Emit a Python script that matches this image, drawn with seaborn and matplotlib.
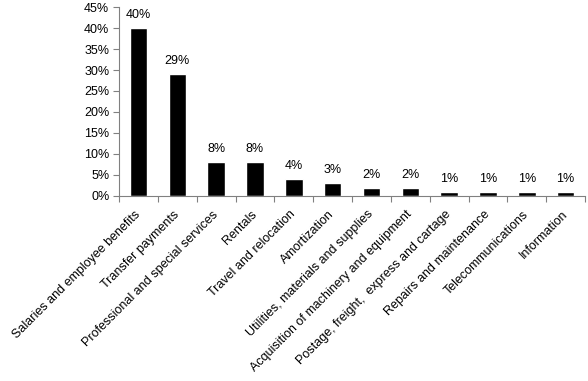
import matplotlib
matplotlib.use('Agg')
import matplotlib.pyplot as plt
import seaborn as sns
import numpy as np

# Data
categories = ['Salaries and employee benefits', 'Transfer payments',
              'Professional and special services', 'Rentals',
              'Travel and relocation', 'Amortization',
              'Utilities, materials and supplies',
              'Acquisition of machinery and equipment',
              'Postage, freight,  express and cartage',
              'Repairs and maintenance', 'Telecommunications', 'Information']
shares = [40, 29, 8, 8, 4, 3, 2, 2, 1, 1, 1, 1]
share_labels = ['40%', '29%', '8%', '8%', '4%', '3%', '2%', '2%', '1%', '1%', '1%', '1%']
y_ticks = [0, 5, 10, 15, 20, 25, 30, 35, 40, 45]

sns.set_style('white', {'text.color': 'black', 'axes.labelcolor': 'black',
                        'xtick.color': 'black', 'ytick.color': 'black'})
plt.rcParams['font.family'] = ['Liberation Sans', 'DejaVu Sans']

fig = plt.figure(figsize=(5.88, 3.81), dpi=100)
ax = fig.add_axes([0.2024, 0.4856, 0.7926, 0.496])

sns.barplot(x=categories, y=shares, color='black', width=0.45,
            saturation=1, ax=ax)
ax.bar_label(ax.containers[0], labels=share_labels, padding=5, fontsize=9,
             color='black')

ax.set_xlim(-0.5, len(categories) - 0.5)
ax.set_ylim(0, 45)
ax.set_yticks(y_ticks)
ax.set_yticklabels([f'{t}%' for t in y_ticks], fontsize=9)

# category labels, ticks between categories
ax.set_xticks(range(len(categories)))
ax.set_xticklabels(categories, rotation=45, ha='right', va='center',
                   rotation_mode='anchor', fontsize=9)
ax.set_xticks(np.arange(-0.5, len(categories)), minor=True)
ax.tick_params(axis='x', which='major', length=0, pad=12)
ax.tick_params(axis='x', which='minor', length=4, width=0.8, color='#808080',
               direction='out', bottom=True)
ax.tick_params(axis='y', length=4, width=0.8, color='#808080',
               labelcolor='black', direction='out', left=True, pad=3)

for side in ['top', 'right']:
    ax.spines[side].set_visible(False)
for side in ['left', 'bottom']:
    ax.spines[side].set_color('#808080')
    ax.spines[side].set_linewidth(0.8)

fig.savefig('out.png', dpi=100)
